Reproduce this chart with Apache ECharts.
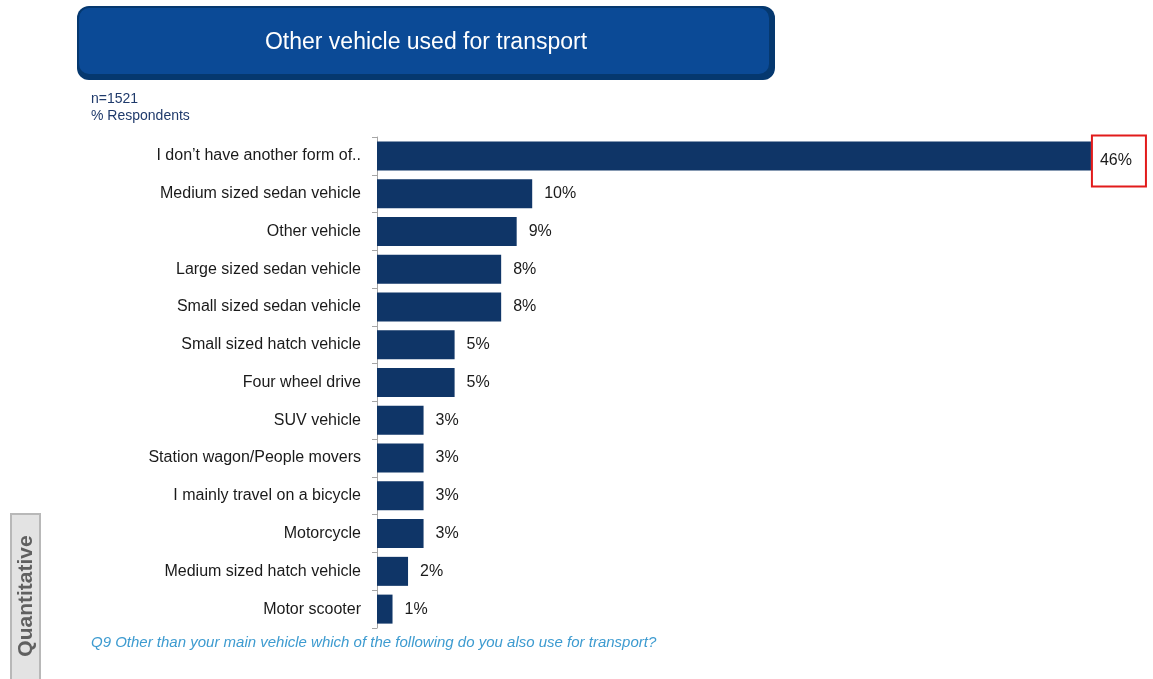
<!DOCTYPE html>
<html>
<head>
<meta charset="utf-8">
<script src="https://cdn.jsdelivr.net/npm/echarts@6/dist/echarts.min.js"></script>
<style>
  html, body { margin: 0; padding: 0; background: #ffffff; }
  #chart { width: 1153px; height: 679px; }
</style>
</head>
<body>
<div id="chart"></div>
<script>
// Vehicle categories, top to bottom
const categories = [
  "I don\u2019t have another form of..",
  "Medium sized sedan vehicle",
  "Other vehicle",
  "Large sized sedan vehicle",
  "Small sized sedan vehicle",
  "Small sized hatch vehicle",
  "Four wheel drive",
  "SUV vehicle",
  "Station wagon/People movers",
  "I mainly travel on a bicycle",
  "Motorcycle",
  "Medium sized hatch vehicle",
  "Motor scooter"
];
// Share of respondents (%)
const values = [46, 10, 9, 8, 8, 5, 5, 3, 3, 3, 3, 2, 1];

const titleText = "Other vehicle used for transport";
const sampleText = "n=1521";
const unitText = "% Respondents";
const questionText = "Q9 Other than your main vehicle which of the following do you also use for transport?";
const sideTabText = "Quantitative";

const FONT = "'Liberation Sans', Arial, sans-serif";
const BAR = "#0f3567";

const chart = echarts.init(document.getElementById('chart'), null, { renderer: 'canvas' });

const seriesData = values.map((v, i) => {
  const item = { value: v };
  if (i === 0) {
    // highlighted leading answer
    item.label = {
      borderColor: '#e21b1b',
      borderWidth: 2,
      lineHeight: 16,
      padding: [15, 14, 20, 8],
      distance: 1,
      offset: [0, 5]
    };
  }
  return item;
});

chart.setOption({
  animation: false,
  grid: { left: 377, right: 0, top: 137, bottom: 51, containLabel: false },
  xAxis: {
    type: 'value',
    min: 0,
    max: 50,
    show: false
  },
  yAxis: {
    type: 'category',
    inverse: true,
    data: categories,
    axisLine: { show: true, lineStyle: { color: '#a6a6a6', width: 1 } },
    axisTick: { show: true, length: 5, lineStyle: { color: '#a6a6a6' } },
    axisLabel: {
      margin: 16,
      color: '#1a1a1a',
      fontSize: 16,
      fontFamily: FONT
    },
    splitLine: { show: false }
  },
  series: [{
    type: 'bar',
    data: seriesData,
    barWidth: 29,
    itemStyle: { color: BAR },
    label: {
      show: true,
      position: 'right',
      distance: 12,
      formatter: '{c}%',
      color: '#1a1a1a',
      fontSize: 16,
      fontFamily: FONT
    }
  }],
  graphic: [
    // Title banner
    {
      type: 'rect',
      shape: { x: 77, y: 6, width: 698, height: 74, r: 12 },
      style: { fill: '#05386f' },
      z: 10
    },
    {
      type: 'rect',
      shape: { x: 79, y: 8, width: 690, height: 66, r: 10 },
      style: { fill: '#0b4a96' },
      z: 11
    },
    {
      type: 'text',
      x: 426, y: 43,
      style: {
        text: titleText,
        fill: '#ffffff',
        font: '23px ' + FONT,
        align: 'center',
        verticalAlign: 'middle'
      },
      z: 12
    },
    {
      type: 'text',
      x: 91, y: 99,
      style: { text: sampleText, fill: '#1f3a6b', font: '14px ' + FONT, verticalAlign: 'middle' }
    },
    {
      type: 'text',
      x: 91, y: 116,
      style: { text: unitText, fill: '#1f3a6b', font: '14px ' + FONT, verticalAlign: 'middle' }
    },
    // Question footnote
    {
      type: 'text',
      x: 91, y: 643,
      style: { text: questionText, fill: '#3d9bd0', font: 'italic 15px ' + FONT, verticalAlign: 'middle' }
    },
    // Side tab
    {
      type: 'rect',
      shape: { x: 11, y: 514, width: 29, height: 170 },
      style: { fill: '#e3e3e3', stroke: '#b8b8b8', lineWidth: 2 }
    },
    {
      type: 'text',
      x: 26, y: 596,
      rotation: Math.PI / 2,
      style: {
        text: sideTabText,
        fill: '#606060',
        font: 'bold 21px ' + FONT,
        align: 'center',
        verticalAlign: 'middle'
      }
    }
  ]
});
</script>
</body>
</html>
